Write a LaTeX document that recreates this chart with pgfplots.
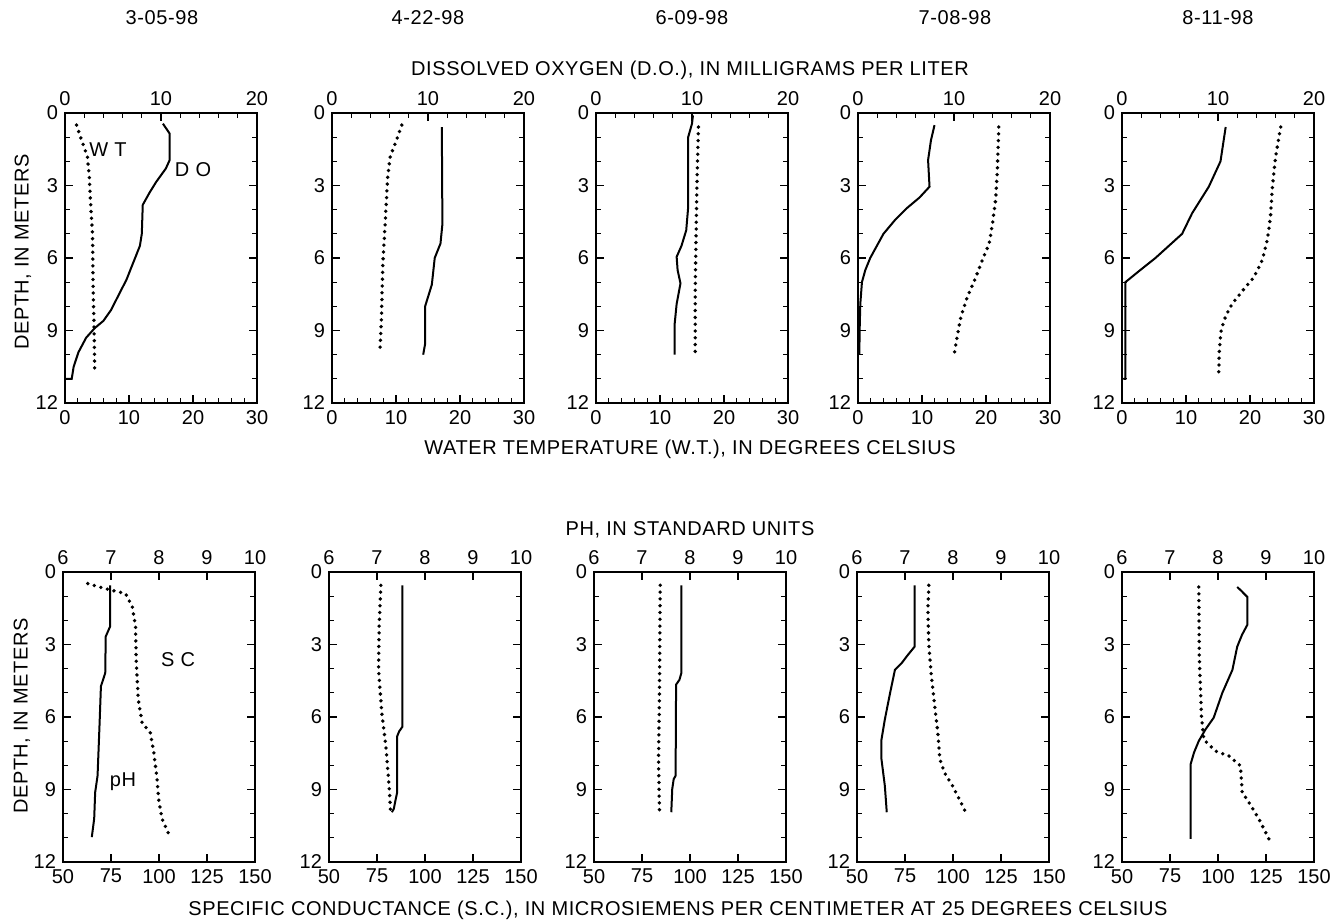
\documentclass[border=0pt]{standalone}
\usepackage{fontspec}
\setmainfont{Liberation Sans}
\usepackage{pgfplots}
\pgfplotsset{compat=1.18}

\pgfplotsset{
  panel/.style={scale only axis, width=96pt, height=145pt, anchor=north west,
    ymin=0, ymax=12, y dir=reverse,
    major tick length=4pt, minor tick length=2.5pt,
    tick style={black, line width=0.6pt}, axis line style={line width=0.8pt},
    tick label style={font=\fontsize{10}{10}\selectfont},
    /pgf/number format/assume math mode=true},
  lowx/.style={panel, tick align=inside, xtick pos=left, ytick={0,3,...,12},
    minor y tick num=2, ytick pos=both, yticklabel pos=left},
  topx/.style={panel, hide y axis, axis x line*=top, xticklabel pos=right,
    tick align=inside},
  solidln/.style={black, line width=1pt, no marks},
  dotln/.style={black, line width=1.9pt, line cap=round, dash pattern=on 0pt off 3.4pt, no marks},
}

% DO / water temperature panel: #1 left edge, #2 DO profile, #3 WT profile
\newcommand\uppanel[3]{%
  \begin{axis}[lowx, at={(#1,-56.5pt)}, xmin=0, xmax=30, xtick={0,10,20,30}, minor x tick num=4]
    \addplot[dotln] coordinates {#3};
  \end{axis}
  \begin{axis}[topx, at={(#1,-56.5pt)}, xmin=0, xmax=20, xtick={0,10,20}, minor x tick num=4]
    \addplot[solidln] coordinates {#2};
  \end{axis}}

% pH / specific conductance panel: #1 left edge, #2 pH profile, #3 SC profile
\newcommand\lowpanel[3]{%
  \begin{axis}[lowx, at={(#1,-286pt)}, xmin=50, xmax=150, xtick={50,75,...,150}]
    \addplot[dotln] coordinates {#3};
  \end{axis}
  \begin{axis}[topx, at={(#1,-286pt)}, xmin=6, xmax=10, xtick={6,7,...,10}]
    \addplot[solidln] coordinates {#2};
  \end{axis}}

\begin{document}
\begin{tikzpicture}
\path[use as bounding box] (0,0) rectangle (667.5pt,-461.5pt);
\tikzset{lbl/.style={font=\fontsize{10}{10}\selectfont\addfontfeature{LetterSpace=3}, inner sep=0pt}}

% ---- 3-05-98
\uppanel{32.5pt}
  {(10.2,0.44) (10.9,0.85) (10.9,1.95) (10.5,2.3) (9.5,2.85) (8.8,3.3) (8.1,3.8) (8.0,5.0)
   (7.8,5.5) (7.1,6.2) (6.4,6.9) (5.5,7.6) (4.8,8.15) (4.0,8.6) (3.1,8.9) (2.2,9.3)
   (1.4,9.9) (0.9,10.5) (0.7,11.0) (0,11.0)}
  {(1.8,0.5) (2.6,1.13) (3.5,1.8) (3.8,2.65) (4.0,3.75) (4.3,5.0) (4.4,7.3) (4.55,9.0) (4.65,10.8)}
% ---- 4-22-98
\uppanel{166pt}
  {(11.44,0.58) (11.5,4.6) (11.3,5.4) (10.7,6.0) (10.4,7.1) (9.7,8.0) (9.7,9.55) (9.5,10.0)}
  {(10.9,0.5) (10.1,1.1) (9.1,1.8) (8.7,2.65) (8.3,4.6) (7.95,6.2) (7.7,8.7) (7.5,9.8)}
% ---- 6-09-98
\uppanel{298pt}
  {(10.1,0.1) (10.0,0.44) (9.6,1.0) (9.6,3.9) (9.4,4.85) (8.9,5.5) (8.4,5.95) (8.5,6.5)
   (8.8,7.05) (8.4,7.9) (8.2,8.7) (8.2,10.0)}
  {(16.0,0.58) (15.75,3.2) (15.5,7.3) (15.5,9.95)}
% ---- 7-08-98
\uppanel{429pt}
  {(7.97,0.5) (7.6,1.13) (7.3,1.95) (7.45,3.05) (6.4,3.5) (5.05,3.95) (3.85,4.43) (2.65,5.0)
   (1.96,5.5) (1.27,6.0) (0.76,6.5) (0.41,7.0) (0.24,7.9) (0.17,9.0) (0.14,10.0)}
  {(22.0,0.58) (21.75,2.5) (21.5,3.6) (21.0,4.6) (20.5,5.4) (19.4,6.1) (18.4,6.8) (17.1,7.6)
   (16.1,8.4) (15.6,9.1) (15.05,9.95)}
% ---- 8-11-98
\uppanel{561pt}
  {(10.8,0.58) (10.26,2.0) (9.04,3.05) (7.3,4.15) (6.26,5.0) (4.87,5.5) (3.48,6.0) (1.9,6.5)
   (0.35,7.0) (0.35,11.0) (0.15,11.0)}
  {(24.8,0.58) (24.0,1.8) (23.5,3.05) (23.2,4.3) (22.7,5.25) (21.9,6.1) (20.6,6.8) (19.0,7.3)
   (17.2,7.9) (16.2,8.4) (15.5,8.97) (15.2,9.8) (15.1,10.97)}

% ---- pH / SC row
\lowpanel{31.5pt}
  {(6.98,0.55) (6.98,2.26) (6.89,2.67) (6.88,4.18) (6.79,4.73) (6.76,6.38) (6.72,8.43)
   (6.67,9.12) (6.65,10.2) (6.6,10.97)}
  {(62.9,0.48) (68.9,0.62) (74.9,0.75) (82.6,0.89) (86.1,1.44) (87.8,2.26) (88.1,3.63)
   (89.2,5.28) (91.2,6.24) (95.5,6.65) (97.3,7.47) (99.0,8.57) (99.8,9.39) (101.5,10.2) (105.8,10.97)}
\lowpanel{164.5pt}
  {(7.53,0.55) (7.53,6.4) (7.46,6.6) (7.42,6.8) (7.42,9.12) (7.39,9.4) (7.35,9.8) (7.31,9.94)}
  {(77.0,0.55) (76.1,2.26) (75.8,4.05) (77.5,5.83) (79.6,7.2) (81.3,8.85) (82.1,9.94)}
\lowpanel{297pt}
  {(7.82,0.55) (7.82,4.18) (7.78,4.46) (7.71,4.66) (7.70,8.43) (7.66,8.57) (7.63,8.98) (7.61,9.94)}
  {(84.5,0.55) (84.1,5.0) (83.6,7.75) (84.1,9.94)}
\lowpanel{428.5pt}
  {(7.20,0.55) (7.20,3.09) (7.06,3.43) (6.93,3.77) (6.79,4.05) (6.69,5.0) (6.58,6.1)
   (6.51,6.93) (6.51,7.75) (6.58,8.85) (6.62,9.94)}
  {(87.4,0.55) (86.9,1.58) (87.4,2.95) (88.6,4.18) (90.3,5.42) (92.1,6.65) (93.2,7.75)
   (95.5,8.3) (99.8,8.85) (103.2,9.39) (106.6,9.94)}
\lowpanel{561pt}
  {(8.40,0.62) (8.47,0.75) (8.61,1.03) (8.61,2.19) (8.50,2.6) (8.40,3.09) (8.30,4.05)
   (8.09,5.0) (7.91,6.03) (7.74,6.51) (7.60,6.99) (7.50,7.47) (7.43,7.95) (7.43,11.04)}
  {(90.0,0.62) (90.3,3.63) (91.4,5.97) (92.6,6.93) (98.7,7.41) (105.7,7.61) (111.7,8.02)
   (112.6,9.12) (116.1,9.53) (121.3,10.22) (126.5,11.04)}

% ---- titles
\node[lbl] at (81pt,-9pt) {3-05-98};
\node[lbl] at (214pt,-9pt) {4-22-98};
\node[lbl] at (346pt,-9pt) {6-09-98};
\node[lbl] at (477.5pt,-9pt) {7-08-98};
\node[lbl] at (609pt,-9pt) {8-11-98};
\node[lbl] at (345pt,-35pt) {DISSOLVED OXYGEN (D.O.), IN MILLIGRAMS PER LITER};
\node[lbl] at (345pt,-224.5pt) {WATER TEMPERATURE (W.T.), IN DEGREES CELSIUS};
\node[lbl] at (345pt,-265pt) {PH, IN STANDARD UNITS};
\node[lbl] at (339pt,-455pt) {SPECIFIC CONDUCTANCE (S.C.), IN MICROSIEMENS PER CENTIMETER AT 25 DEGREES CELSIUS};
\node[lbl, rotate=90] at (11.5pt,-126pt) {DEPTH, IN METERS};
\node[lbl, rotate=90] at (11pt,-358pt) {DEPTH, IN METERS};
\node[lbl] at (54pt,-75pt) {W T};
\node[lbl] at (96.5pt,-85pt) {D O};
\node[lbl] at (89pt,-330pt) {S C};
\node[lbl] at (61.5pt,-391pt) {pH};
\end{tikzpicture}
\end{document}
